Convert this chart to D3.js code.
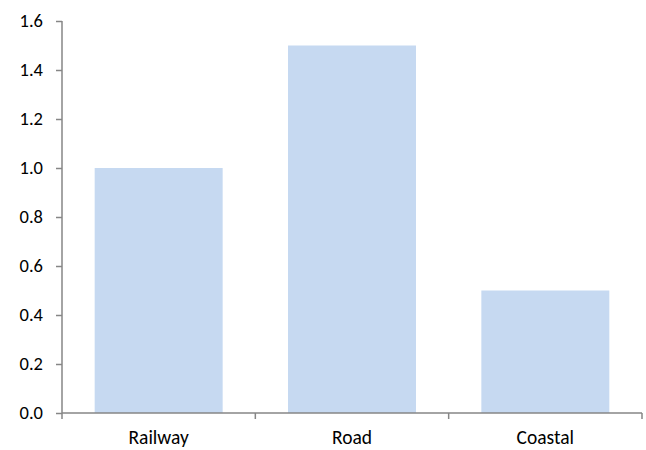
<!DOCTYPE html>
<html>
<head>
<meta charset="utf-8">
<script src="https://cdn.jsdelivr.net/npm/d3@7"></script>
<style>
  body { margin: 0; background: #fff; }
  svg text { font-family: Carlito, Lato, "Liberation Sans", Arial, sans-serif; font-size: 19.5px; fill: #000; }
  svg .y-axis text { font-size: 18.5px; }
</style>
</head>
<body>
<svg id="chart" width="646" height="450"></svg>
<script>
// Modes of transport and their values
const categories = ["Railway", "Road", "Coastal"];
const values = [1.0, 1.5, 0.5];
const yTicks = [0, 0.2, 0.4, 0.6, 0.8, 1.0, 1.2, 1.4, 1.6];

const svg = d3.select("#chart");
const plotLeft = 62, plotRight = 642, plotTop = 21, plotBottom = 413;

const x = d3.scaleBand().domain(categories).range([plotLeft, plotRight])
  .paddingInner(0.338).paddingOuter(0.169);
const y = d3.scaleLinear().domain([0, 1.6]).range([plotBottom, plotTop]);

// bars
svg.append("g").selectAll("rect").data(values).join("rect")
  .attr("x", (d, i) => x(categories[i]))
  .attr("y", d => y(d))
  .attr("width", x.bandwidth())
  .attr("height", d => y(0) - y(d))
  .attr("fill", "#c6d9f1");

const axisColor = "#868686";

// y axis
const yAxis = svg.append("g").attr("class", "y-axis").attr("transform", `translate(${plotLeft},0)`)
  .call(d3.axisLeft(y).tickValues(yTicks).tickFormat(d3.format(".1f")).tickSize(6).tickPadding(13));
yAxis.attr("font-size", null).attr("font-family", null);
yAxis.select(".domain").attr("stroke", axisColor).attr("stroke-width", 1.5).attr("d", `M0,${plotTop}V${plotBottom}`);
yAxis.selectAll(".tick line").attr("stroke", axisColor).attr("stroke-width", 1.5);

// x axis with ticks at category boundaries
const xAxis = svg.append("g").attr("transform", `translate(0,${plotBottom})`);
xAxis.append("line").attr("x1", plotLeft).attr("x2", plotRight).attr("stroke", axisColor).attr("stroke-width", 1.5);
const step = x.step();
const boundaries = d3.range(categories.length + 1).map(i => plotLeft + i * step);
xAxis.selectAll("line.tk").data(boundaries).join("line").attr("class", "tk")
  .attr("x1", d => d).attr("x2", d => d).attr("y1", 0).attr("y2", 6)
  .attr("stroke", axisColor).attr("stroke-width", 1.5);
xAxis.selectAll("text").data(categories).join("text")
  .attr("x", d => x(d) + x.bandwidth() / 2)
  .attr("y", 31)
  .attr("text-anchor", "middle")
  .text(d => d);
</script>
</body>
</html>
